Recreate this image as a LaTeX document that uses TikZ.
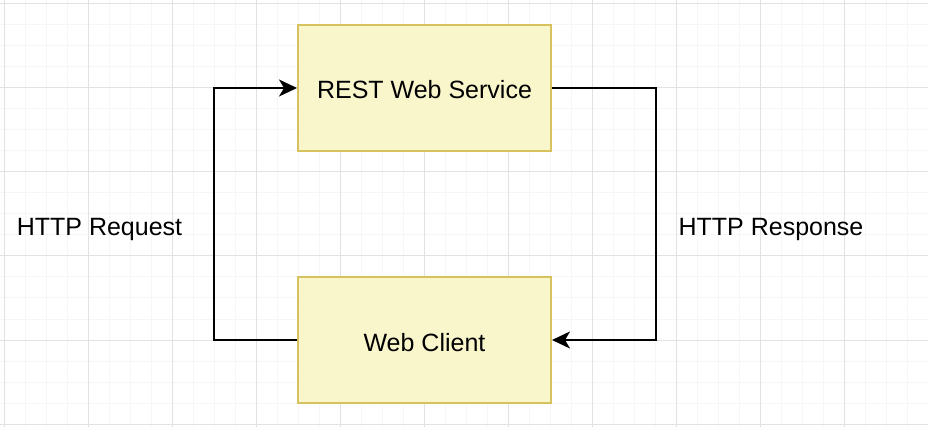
\documentclass[tikz,border=0pt]{standalone}
\usepackage{fontspec}
\setmainfont{Liberation Sans}
\usetikzlibrary{arrows.meta}
\definecolor{boxfill}{HTML}{F9F6CB}
\definecolor{boxline}{HTML}{D6C25E}
\definecolor{gridminor}{HTML}{F6F6F6}
\definecolor{gridmajor}{HTML}{E2E2E2}
\tikzset{
  box/.style={draw=boxline, fill=boxfill, line width=2pt, minimum width=253pt, minimum height=126pt, inner sep=0pt, text height=22pt, text depth=0pt, font=\fontsize{25}{30}\selectfont},
  conn/.style={line width=2pt, -{Stealth[length=18pt,width=17pt,inset=5pt]}},
  lbl/.style={font=\fontsize{25}{30}\selectfont, inner sep=0pt, text height=18pt, text depth=0pt}
}
\begin{document}
\begin{tikzpicture}[x=1pt,y=-1pt]
\useasboundingbox (0,0) rectangle (928,427);
\fill[white] (0,0) rectangle (928,427);
\foreach \i in {0,...,44} {
  \draw[gridminor, line width=1pt] ({4+21*\i},0) -- ({4+21*\i},427);
}
\foreach \i in {0,...,20} {
  \draw[gridminor, line width=1pt] (0,{4+21*\i}) -- (928,{4+21*\i});
}
\foreach \i in {0,...,11} {
  \draw[gridmajor, line width=1pt] ({4+84*\i},0) -- ({4+84*\i},427);
}
\foreach \i in {0,...,5} {
  \draw[gridmajor, line width=1pt] (0,{4+84*\i}) -- (928,{4+84*\i});
}
\node[box] (rest) at (424.5,88) {REST Web Service};
\node[box] (client) at (424.5,340) {Web Client};
\node[lbl] (req) at (99.5,227) {HTTP Request};
\node[lbl] (resp) at (771,227) {HTTP Response};
\coordinate (lc) at (214,0);
\coordinate (rc) at (656,0);
\draw[conn] (client.west) -- (client.west -| lc) -- (rest.west -| lc) -- (rest.west);
\draw[conn] (rest.east) -- (rest.east -| rc) -- (client.east -| rc) -- (client.east);
\end{tikzpicture}
\end{document}
